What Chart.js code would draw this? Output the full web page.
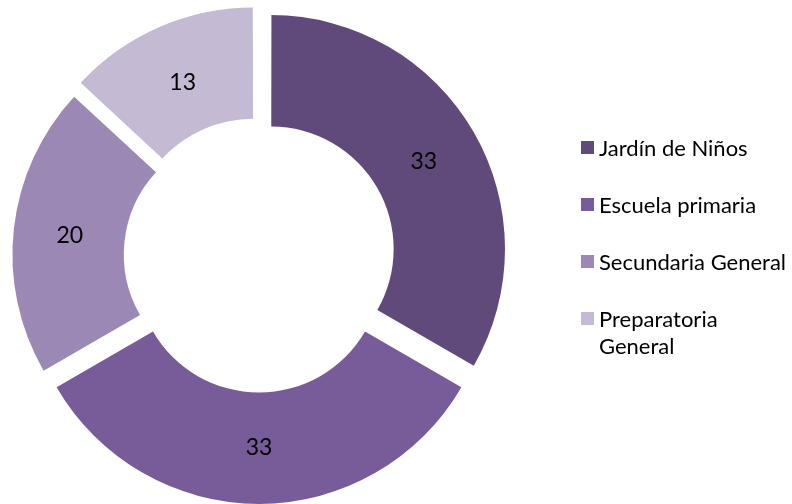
<!DOCTYPE html>
<html>
<head>
<meta charset="utf-8">
<script src="https://cdn.jsdelivr.net/npm/chart.js@4/dist/chart.umd.min.js"></script>
<style>
  html, body { margin: 0; padding: 0; background: #fff; }
  #wrap { position: relative; width: 792px; height: 504px; }
</style>
</head>
<body>
<div id="wrap"><canvas id="c" width="792" height="504"></canvas></div>
<script>
const categories = ['Jardín de Niños', 'Escuela primaria', 'Secundaria General', 'Preparatoria General'];
const values = [33, 33, 20, 13];
const colors = ['#604A7B', '#775C99', '#9B88B4', '#C4BAD4'];

const FONT = 'Lato, "Open Sans", "Liberation Sans", sans-serif';

const sliceLabels = {
  id: 'sliceLabels',
  afterDatasetsDraw(chart) {
    const ctx = chart.ctx;
    const meta = chart.getDatasetMeta(0);
    ctx.save();
    ctx.font = '23px ' + FONT;
    ctx.fillStyle = '#000';
    ctx.textAlign = 'center';
    ctx.textBaseline = 'middle';
    meta.data.forEach((arc, i) => {
      const p = arc.getProps(['x', 'y', 'startAngle', 'endAngle', 'innerRadius', 'outerRadius'], true);
      const mid = (p.startAngle + p.endAngle) / 2;
      const shift = (arc.options.offset || 0) / 4;
      const r = (p.innerRadius + p.outerRadius) / 2 + shift;
      ctx.fillText(String(chart.data.datasets[0].data[i]), p.x + Math.cos(mid) * r, p.y + Math.sin(mid) * r + 1);
    });
    ctx.restore();
  }
};

const sideLegend = {
  id: 'sideLegend',
  afterDraw(chart) {
    const ctx = chart.ctx;
    const ds = chart.data.datasets[0];
    ctx.save();
    ctx.font = '22px ' + FONT;
    ctx.textAlign = 'left';
    ctx.textBaseline = 'alphabetic';
    const x0 = 581, box = 13, tx = 599, maxW = 192, y0 = 147.5, step = 57, lh = 27;
    chart.data.labels.forEach((lab, i) => {
      const cy = y0 + step * i;
      ctx.fillStyle = ds.backgroundColor[i];
      ctx.fillRect(x0, cy - box / 2, box, box);
      ctx.fillStyle = '#000';
      const words = lab.split(' ');
      const lines = [];
      let cur = '';
      words.forEach(w => {
        const t = cur ? cur + ' ' + w : w;
        if (ctx.measureText(t).width > maxW && cur) { lines.push(cur); cur = w; } else { cur = t; }
      });
      lines.push(cur);
      lines.forEach((ln, k) => ctx.fillText(ln, tx, cy + 8 + k * lh));
    });
    ctx.restore();
  }
};

new Chart(document.getElementById('c'), {
  type: 'doughnut',
  data: {
    labels: categories,
    datasets: [{
      data: values,
      backgroundColor: colors,
      borderWidth: 0,
      offset: 56,
      clip: false
    }]
  },
  options: {
    responsive: false,
    animation: false,
    events: [],
    radius: 232,
    cutout: '52%',
    layout: { padding: { left: 0, right: 274, top: 8, bottom: 0 } },
    plugins: { legend: { display: false }, tooltip: { enabled: false } }
  },
  plugins: [sliceLabels, sideLegend]
});
</script>
</body>
</html>
